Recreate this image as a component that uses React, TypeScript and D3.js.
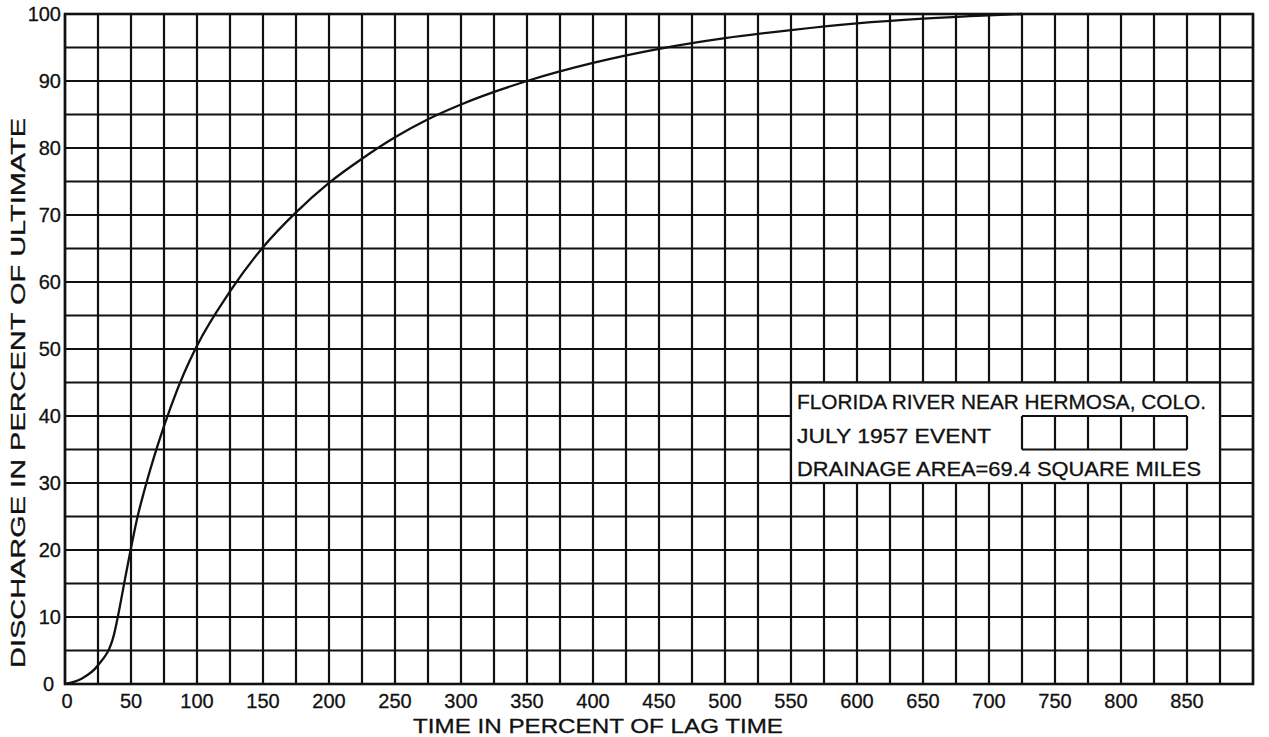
import React from "react";
import * as d3 from "d3";

const curveX = [0, 12.5, 25, 37, 40, 45, 50, 55, 60, 70, 80, 90, 100, 125, 150, 175, 200, 225, 250, 275, 300, 350, 400, 450, 500, 550, 600, 650, 700, 725];
const curveY = [0, 0.8, 2.8, 7.3, 10, 15.2, 20.3, 25, 28.8, 35.5, 41.3, 46.3, 50.5, 58.6, 65.2, 70.4, 74.8, 78.4, 81.6, 84.3, 86.5, 90, 92.7, 94.8, 96.4, 97.6, 98.6, 99.3, 99.8, 100];
const xTickLabels = [0, 50, 100, 150, 200, 250, 300, 350, 400, 450, 500, 550, 600, 650, 700, 750, 800, 850];
const yTickLabels = [0, 10, 20, 30, 40, 50, 60, 70, 80, 90, 100];
const boxLines = [
  "FLORIDA RIVER NEAR HERMOSA, COLO.",
  "JULY 1957 EVENT",
  "DRAINAGE AREA=69.4 SQUARE MILES",
];
const xTitle = "TIME IN PERCENT OF LAG TIME";
const yTitle = "DISCHARGE IN PERCENT OF ULTIMATE";

const W = 1269;
const H = 737;
const FONT = "'Liberation Sans', Arial, sans-serif";

export default function App() {
  const x = d3.scaleLinear().domain([0, 900]).range([65, 1253]);
  const y = d3.scaleLinear().domain([0, 100]).range([684, 14]);
  const vGrid = d3.range(0, 900 + 1, 25);
  const hGrid = d3.range(0, 100 + 1, 5);
  const pts: [number, number][] = curveX.map((v, i) => [v, curveY[i]]);
  const line = d3
    .line<[number, number]>()
    .x((d) => x(d[0]))
    .y((d) => y(d[1]))
    .curve(d3.curveMonotoneX);

  // text box in data units
  const bx0 = 550, bx1 = 875, by0 = 30, by1 = 45;
  const rowBounds = [45, 40, 35, 30];
  const innerX = d3.range(725, 850 + 1, 25);

  return (
    <svg
      width={W}
      height={H}
      style={{ position: "absolute", left: 0, top: 0, background: "#fff" }}
      fontFamily={FONT}
    >
      <rect x={0} y={0} width={W} height={H} fill="#fff" />
      <g stroke="#111" strokeWidth={2.2}>
        {vGrid.map((v) => (
          <line key={"v" + v} x1={x(v)} x2={x(v)} y1={y(0)} y2={y(100)} />
        ))}
        {hGrid.map((v) => (
          <line key={"h" + v} x1={x(0)} x2={x(900)} y1={y(v)} y2={y(v)} />
        ))}
      </g>
      <rect
        x={x(0)}
        y={y(100)}
        width={x(900) - x(0)}
        height={y(0) - y(100)}
        fill="none"
        stroke="#111"
        strokeWidth={2.6}
      />
      <path d={line(pts) || ""} fill="none" stroke="#111" strokeWidth={2.3} />

      {/* annotation box */}
      <rect
        x={x(bx0)}
        y={y(by1)}
        width={x(bx1) - x(bx0)}
        height={y(by0) - y(by1)}
        fill="#fff"
        stroke="#111"
        strokeWidth={2.2}
      />
      <g stroke="#111" strokeWidth={2.2}>
        {innerX.map((v) => (
          <line key={"iv" + v} x1={x(v)} x2={x(v)} y1={y(rowBounds[1])} y2={y(rowBounds[2])} />
        ))}
        <line x1={x(725)} x2={x(850)} y1={y(rowBounds[1])} y2={y(rowBounds[1])} />
        <line x1={x(725)} x2={x(850)} y1={y(rowBounds[2])} y2={y(rowBounds[2])} />
      </g>
      <g fill="#111" fontSize={20} stroke="#111" strokeWidth={0.3}>
        <text x={x(bx0) + 6} y={y(rowBounds[1]) - 7} textLength={409} lengthAdjust="spacingAndGlyphs">
          {boxLines[0]}
        </text>
        <text x={x(bx0) + 6} y={y(rowBounds[2]) - 7} textLength={194} lengthAdjust="spacingAndGlyphs">
          {boxLines[1]}
        </text>
        <text x={x(bx0) + 6} y={y(rowBounds[3]) - 7} textLength={404} lengthAdjust="spacingAndGlyphs">
          {boxLines[2]}
        </text>
      </g>

      {/* y tick labels */}
      <g fill="#111" fontSize={20} textAnchor="end" stroke="#111" strokeWidth={0.3}>
        {yTickLabels.map((v) => (
          <text key={"yl" + v} x={v === 0 ? 54 : 61} y={y(v) + 7}>
            {v}
          </text>
        ))}
      </g>
      {/* x tick labels */}
      <g fill="#111" fontSize={20} textAnchor="middle" stroke="#111" strokeWidth={0.3}>
        {xTickLabels.map((v) => (
          <text key={"xl" + v} x={x(v) + (v === 0 ? 2 : 0)} y={708}>
            {v}
          </text>
        ))}
      </g>
      {/* axis titles */}
      <text
        x={598}
        y={733}
        fontSize={20}
        textAnchor="middle"
        fill="#111"
        stroke="#111"
        strokeWidth={0.3}
        textLength={370}
        lengthAdjust="spacingAndGlyphs"
      >
        {xTitle}
      </text>
      <text
        transform={`translate(25,393) rotate(-90)`}
        x={0}
        y={0}
        fontSize={20}
        textAnchor="middle"
        fill="#111"
        stroke="#111"
        strokeWidth={0.3}
        textLength={550}
        lengthAdjust="spacingAndGlyphs"
      >
        {yTitle}
      </text>
    </svg>
  );
}
